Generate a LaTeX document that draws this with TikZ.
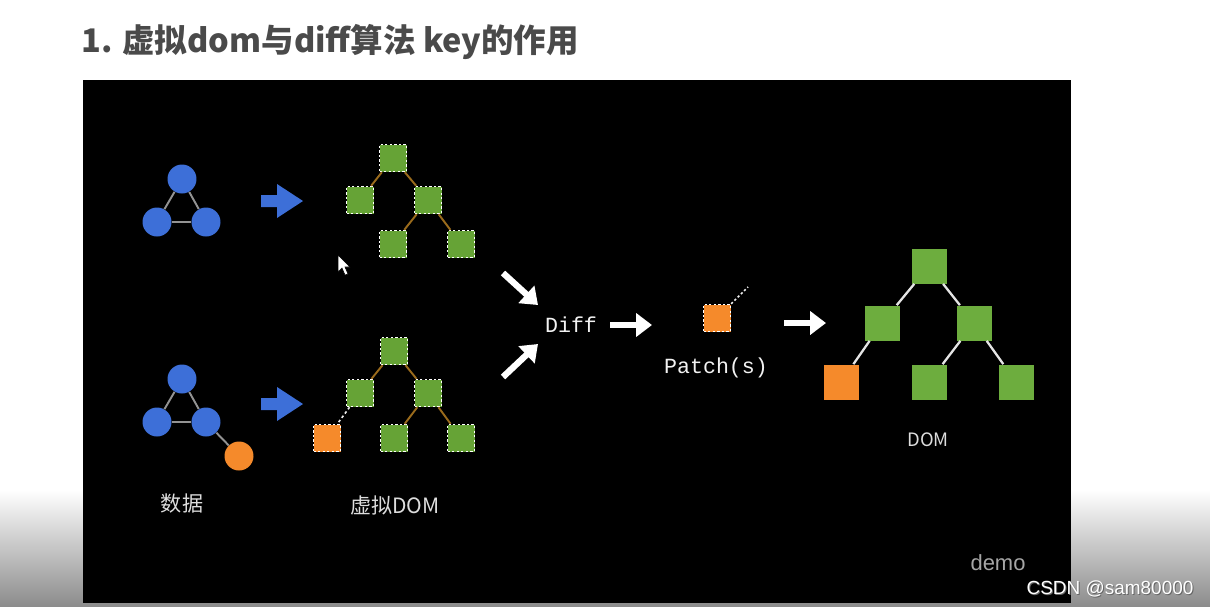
\documentclass[tikz,border=0pt]{standalone}
\usepackage{fontspec}
\newfontfamily\cjk{Noto Sans CJK SC}
\newfontfamily\monofnt{Liberation Mono}
\newfontfamily\lsans{Liberation Sans}
\usetikzlibrary{arrows.meta}
\definecolor{vblue}{HTML}{3D6FD8}
\definecolor{vgreen}{HTML}{66A336}
\definecolor{dgreen}{HTML}{6DAD3E}
\definecolor{vorange}{HTML}{F58A2B}
\definecolor{vbrown}{HTML}{9A6B1C}
\definecolor{titlegray}{HTML}{4A4A4A}
\definecolor{botgray}{HTML}{8C8C8C}
\definecolor{lbl}{HTML}{DDDDDD}
\begin{document}
\begin{tikzpicture}[x=0.02cm,y=-0.02cm,
  circ/.style={circle, fill=vblue, minimum size=0.58cm, inner sep=0pt},
  ocirc/.style={circ, fill=vorange},
  vsq/.style={rectangle, fill=vgreen, draw=white, dash pattern=on 1.3pt off 1.3pt, line width=0.8pt, minimum size=0.54cm, inner sep=0pt},
  osq/.style={vsq, fill=vorange},
  dsq/.style={rectangle, fill=dgreen, minimum size=0.70cm, inner sep=0pt},
  dosq/.style={dsq, fill=vorange},
  cline/.style={draw=gray!85, line width=1.1pt},
  vline/.style={draw=vbrown, line width=1.1pt},
  dline/.style={draw=white!80!gray, line width=1.3pt},
  warrow/.style={draw=white, line width=3.6pt, -{Triangle[length=9pt,width=13pt]}},
  lbltxt/.style={text=lbl, font=\cjk\fontsize{12}{14}\selectfont, inner sep=0pt},
  monotxt/.style={text=white!90!gray, font=\monofnt\fontsize{12.3}{14}\selectfont, inner sep=0pt},
  barrow/.pic={\fill[vblue] (-21,-6) -- (-5,-6) -- (-5,-17) -- (21,0) -- (-5,17) -- (-5,6) -- (-21,6) -- cycle;}
]
\useasboundingbox (0,0) rectangle (1210,606);
\fill[white] (0,0) rectangle (1210,606);
\shade[top color=white, bottom color=botgray] (0,490) rectangle (1210,606);
\fill[black] (83,80) rectangle (1071,603);

% title
\node[anchor=west, text=titlegray, font=\cjk\bfseries\fontsize{18.5}{22}\selectfont, inner sep=0pt] (title) at (81,42) {1. 虚拟dom与diff算法 key的作用};

% top data circles
\node[circ] (c1) at (182,179) {};
\node[circ] (c2) at (157,222) {};
\node[circ] (c3) at (206,222) {};
\draw[cline] (c1) -- (c2) (c1) -- (c3) (c2) -- (c3);

% bottom data circles
\node[circ] (d1) at (182,379) {};
\node[circ] (d2) at (157,422) {};
\node[circ] (d3) at (206,422) {};
\node[ocirc] (d4) at (239,456) {};
\draw[cline] (d1) -- (d2) (d1) -- (d3) (d2) -- (d3) (d3) -- (d4);

% blue arrows
\pic at (282,201) {barrow};
\pic at (282,404) {barrow};

% top virtual dom tree
\node[vsq] (t1) at (393,158) {};
\node[vsq] (t2) at (360,200) {};
\node[vsq] (t3) at (428,200) {};
\node[vsq] (t4) at (393,244) {};
\node[vsq] (t5) at (461,244) {};
\draw[vline] (t1) -- (t2) (t1) -- (t3) (t3) -- (t4) (t3) -- (t5);

% bottom virtual dom tree
\node[vsq] (b1) at (394,351) {};
\node[vsq] (b2) at (360,393) {};
\node[vsq] (b3) at (428,393) {};
\node[osq] (b4) at (327,438) {};
\node[vsq] (b5) at (394,438) {};
\node[vsq] (b6) at (461,438) {};
\draw[vline] (b1) -- (b2) (b1) -- (b3) (b3) -- (b5) (b3) -- (b6);
\draw[draw=white!85!gray, line width=0.9pt, dash pattern=on 1.5pt off 1.5pt] (b2) -- (b4);

% mouse cursor
\filldraw[fill=white, draw=black, line width=0.3pt] (338,255) -- (338,272) -- (342,268) -- (345,275) -- (348,274) -- (345,267) -- (350,267) -- cycle;

% labels
\node[lbltxt] (lshuju) at (182,503) {数据};
\node[lbltxt] (lvdom) at (395,505) {虚拟DOM};

% diff
\node[monotxt] (diff) at (571,325) {Diff};
\coordinate (a1s) at (503,273);
\coordinate (a1e) at (538,305);
\coordinate (a2s) at (503,377);
\coordinate (a2e) at (538,344);
\draw[warrow] (a1s) -- (a1e);
\draw[warrow] (a2s) -- (a2e);

% patch
\node[osq] (patch) at (717,318) {};
\coordinate (pend) at (748,287);
\draw[draw=white!85!gray, line width=0.9pt, dash pattern=on 1.3pt off 1.3pt] (patch.north east) -- (pend);
\node[monotxt] (lpatch) at (716,368) {Patch(s)};
\coordinate (a3s) at (610,325);
\coordinate (a3e) at (652,325);
\draw[warrow] (a3s) -- (a3e);
\coordinate (a4s) at (784,323);
\coordinate (a4e) at (826,323);
\draw[warrow] (a4s) -- (a4e);

% real DOM tree
\node[dsq] (r1) at (929,266) {};
\node[dsq] (r2) at (882,323) {};
\node[dsq] (r3) at (974,323) {};
\node[dosq] (r4) at (841,382) {};
\node[dsq] (r5) at (929,382) {};
\node[dsq] (r6) at (1016,382) {};
\draw[dline] (r1) -- (r2) (r1) -- (r3) (r2) -- (r4) (r3) -- (r5) (r3) -- (r6);
\node[text=lbl, font=\cjk\fontsize{10.5}{12}\selectfont, inner sep=0pt] (ldom) at (928,440) {DOM};

% demo & watermark
\node[text=gray!70!white, font=\lsans\fontsize{12.5}{14}\selectfont, inner sep=0pt] (ldemo) at (998,563) {demo};
\node[text=black!60, font=\lsans\fontsize{10.8}{12}\selectfont, inner sep=0pt] (wmsh) at (1111,589.5) {CSDN @sam80000};
\node[text=white, font=\lsans\fontsize{10.8}{12}\selectfont, inner sep=0pt] (wm) at (1110,588.5) {CSDN @sam80000};
\end{tikzpicture}
\end{document}
